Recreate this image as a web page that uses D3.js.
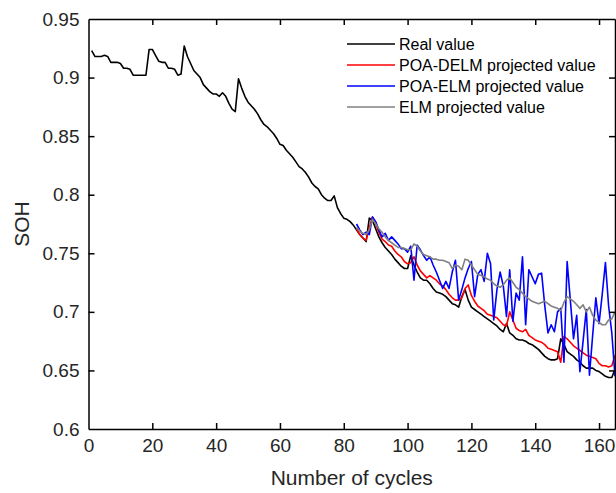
<!DOCTYPE html>
<html>
<head>
<meta charset="utf-8">
<script src="https://cdn.jsdelivr.net/npm/d3@7"></script>
<style>
  body { margin: 0; background: #fff; }
  svg { display: block; font-family: "Liberation Sans", Arial, sans-serif; }
</style>
</head>
<body>
<svg id="chart"></svg>
<script>
// cycle index where the projections start
const startCycle = 84

const realValue = [
  0.923, 0.918, 0.918, 0.918, 0.919, 0.918, 0.913, 0.913, 0.913, 0.912,
  0.908, 0.908, 0.907, 0.902, 0.902, 0.902, 0.902, 0.902, 0.924, 0.924,
  0.919, 0.914, 0.913, 0.913, 0.908, 0.908, 0.907, 0.902, 0.903, 0.927,
  0.918, 0.912, 0.906, 0.903, 0.900, 0.894, 0.891, 0.888, 0.886, 0.886,
  0.884, 0.887, 0.884, 0.878, 0.873, 0.871, 0.899, 0.891, 0.884, 0.879,
  0.876, 0.873, 0.869, 0.864, 0.860, 0.858, 0.855, 0.852, 0.848, 0.843,
  0.842, 0.838, 0.835, 0.832, 0.828, 0.824, 0.822, 0.819, 0.815, 0.810,
  0.807, 0.805, 0.800, 0.797, 0.795, 0.795, 0.799, 0.789, 0.784, 0.780,
  0.779, 0.777, 0.774, 0.770, 0.766, 0.763, 0.760, 0.780, 0.778, 0.771,
  0.764, 0.759, 0.755, 0.752, 0.749, 0.745, 0.742, 0.739, 0.737, 0.737,
  0.748, 0.740, 0.734, 0.729, 0.727, 0.727, 0.724, 0.720, 0.717, 0.716,
  0.715, 0.713, 0.710, 0.707, 0.706, 0.704, 0.713, 0.719, 0.710, 0.704,
  0.702, 0.700, 0.698, 0.696, 0.694, 0.692, 0.690, 0.688, 0.685, 0.683,
  0.690, 0.682, 0.680, 0.677, 0.676, 0.676, 0.675, 0.673, 0.672, 0.670,
  0.668, 0.665, 0.662, 0.660, 0.659, 0.659, 0.660, 0.677, 0.672, 0.666,
  0.664, 0.662, 0.659, 0.657, 0.654, 0.652, 0.652, 0.652, 0.650, 0.649,
  0.647, 0.645, 0.644, 0.644, 0.651
]

// cycles 84..165
const poaDelm = [
  0.771, 0.766, 0.763, 0.761, 0.772, 0.781, 0.775, 0.768, 0.762, 0.760,
  0.757, 0.756, 0.752, 0.749, 0.747, 0.743, 0.741, 0.742, 0.747, 0.740,
  0.735, 0.732, 0.729, 0.731, 0.729, 0.727, 0.724, 0.722, 0.719, 0.715,
  0.712, 0.710, 0.710, 0.712, 0.720, 0.723, 0.714, 0.709, 0.705, 0.703,
  0.701, 0.698, 0.697, 0.696, 0.695, 0.692, 0.689, 0.688, 0.700, 0.693,
  0.686, 0.684, 0.683, 0.685, 0.680, 0.678, 0.676, 0.675, 0.674, 0.672,
  0.669, 0.668, 0.667, 0.666, 0.657, 0.679, 0.677, 0.674, 0.671, 0.669,
  0.667, 0.665, 0.663, 0.662, 0.661, 0.660, 0.656, 0.654, 0.654, 0.653,
  0.654, 0.663
]

const poaElm = [
  0.775, 0.770, 0.766, 0.768, 0.766, 0.781, 0.777, 0.770, 0.764, 0.767,
  0.761, 0.764, 0.761, 0.758, 0.754, 0.754, 0.751, 0.756, 0.727, 0.757,
  0.753, 0.748, 0.744, 0.747, 0.740, 0.734, 0.727, 0.720, 0.726, 0.720,
  0.734, 0.744, 0.710, 0.719, 0.729, 0.737, 0.743, 0.713, 0.732, 0.736,
  0.726, 0.750, 0.741, 0.693, 0.719, 0.734, 0.722, 0.696, 0.736, 0.692,
  0.716, 0.710, 0.747, 0.689, 0.736, 0.730, 0.724, 0.732, 0.733, 0.705,
  0.682, 0.689, 0.683, 0.700, 0.703, 0.657, 0.743, 0.710, 0.677, 0.697,
  0.649, 0.675, 0.702, 0.646, 0.680, 0.712, 0.690, 0.715, 0.742, 0.705,
  0.682, 0.645
]

const elm = [
  0.772, 0.769, 0.767, 0.766, 0.770, 0.779, 0.775, 0.771, 0.768, 0.764,
  0.761, 0.759, 0.757, 0.755, 0.755, 0.754, 0.753, 0.753, 0.758, 0.756,
  0.752, 0.749, 0.748, 0.747, 0.745, 0.745, 0.744, 0.744, 0.743, 0.742,
  0.737, 0.740, 0.739, 0.736, 0.745, 0.744, 0.740, 0.736, 0.732, 0.731,
  0.730, 0.728, 0.727, 0.724, 0.722, 0.721, 0.723, 0.727, 0.729, 0.725,
  0.721, 0.719, 0.716, 0.713, 0.711, 0.709, 0.708, 0.707, 0.708, 0.709,
  0.707, 0.705, 0.704, 0.703, 0.701, 0.708, 0.713, 0.711, 0.709, 0.706,
  0.703, 0.706, 0.700, 0.704, 0.697, 0.693, 0.691, 0.689, 0.689, 0.693,
  0.694, 0.700
]

const xTicks = [0, 20, 40, 60, 80, 100, 120, 140, 160]
const yTicks = [0.6, 0.65, 0.7, 0.75, 0.8, 0.85, 0.9, 0.95]

const seriesNames = ['Real value', 'POA-DELM projected value', 'POA-ELM projected value', 'ELM projected value']
const seriesColors = ['#000000', '#ff0000', '#0000ff', '#808080']

const width = 616
const height = 493
const plotLeft = 88.5, plotRight = 615, plotTop = 19, plotBottom = 429

const svg = d3.select('#chart')
  .attr('width', width)
  .attr('height', height)

const xScale = d3.scaleLinear().domain([0, 165]).range([plotLeft, plotRight])
const yScale = d3.scaleLinear().domain([0.6, 0.95]).range([plotBottom, plotTop])

const toPoints = (arr, start) => arr.map((v, i) => ({ c: start + i, v: v }))
const series = [
  toPoints(realValue, 1),
  toPoints(poaDelm, startCycle),
  toPoints(poaElm, startCycle),
  toPoints(elm, startCycle)
]

const line = d3.line()
  .x(d => xScale(d.c))
  .y(d => yScale(d.v))

svg.append('clipPath').attr('id', 'plotArea')
  .append('rect')
  .attr('x', plotLeft).attr('y', plotTop)
  .attr('width', plotRight - plotLeft).attr('height', plotBottom - plotTop)

//data lines
const plot = svg.append('g').attr('clip-path', 'url(#plotArea)')
plot.selectAll('.series').data(series).enter().append('path')
  .attr('class', 'series')
  .attr('d', line)
  .attr('fill', 'none')
  .attr('stroke', (d, i) => seriesColors[i])
  .attr('stroke-width', 1.6)
  .attr('stroke-linejoin', 'round')

//axes, ticks pointing inward like matlab
const tickLen = 6
const axisFont = 19

svg.append('g')
  .attr('transform', `translate(0, ${plotBottom})`)
  .call(d3.axisBottom(xScale).tickValues(xTicks).tickSizeInner(-tickLen).tickSizeOuter(0).tickPadding(10))
svg.append('g')
  .attr('transform', `translate(0, ${plotTop})`)
  .call(d3.axisTop(xScale).tickValues(xTicks).tickSizeInner(-tickLen).tickSizeOuter(0).tickFormat(''))
svg.append('g')
  .attr('transform', `translate(${plotLeft}, 0)`)
  .call(d3.axisLeft(yScale).tickValues(yTicks).tickSizeInner(-tickLen).tickSizeOuter(0).tickPadding(9).tickFormat(d3.format('')))
svg.append('g')
  .attr('transform', `translate(${plotRight}, 0)`)
  .call(d3.axisRight(yScale).tickValues(yTicks).tickSizeInner(-tickLen).tickSizeOuter(0).tickFormat(''))

svg.selectAll('.domain').attr('stroke', '#000').attr('stroke-width', 1.5)
svg.selectAll('.tick line').attr('stroke', '#000').attr('stroke-width', 1.5)
svg.selectAll('.tick text')
  .attr('font-size', axisFont + 'px')
  .attr('font-family', '"Liberation Sans", Arial, sans-serif')
  .attr('fill', '#262626')

// no tick marks on the corners
svg.selectAll('.tick').filter(d => d === 0.6 || d === 0.95 || d === 0).select('line').remove()

//axis titles
svg.append('text')
  .attr('x', (plotLeft + plotRight) / 2)
  .attr('y', 485)
  .attr('text-anchor', 'middle')
  .attr('font-size', '21px')
  .attr('fill', '#262626')
  .text('Number of cycles')

svg.append('text')
  .attr('transform', `translate(29, ${(plotTop + plotBottom) / 2}) rotate(-90)`)
  .attr('text-anchor', 'middle')
  .attr('font-size', '21px')
  .attr('fill', '#262626')
  .text('SOH')

//legend
const legend = svg.append('g').attr('transform', 'translate(347, 44)')
const rows = legend.selectAll('.row').data(seriesNames).enter().append('g')
  .attr('class', 'row')
  .attr('transform', (d, i) => `translate(0, ${i * 21})`)
rows.append('line')
  .attr('x1', 0).attr('x2', 48)
  .attr('stroke', (d, i) => seriesColors[i])
  .attr('stroke-width', 1.6)
rows.append('text')
  .attr('x', 52)
  .attr('dy', '0.35em')
  .attr('font-size', '16px')
  .attr('fill', '#000')
  .text(d => d)
</script>
</body>
</html>
